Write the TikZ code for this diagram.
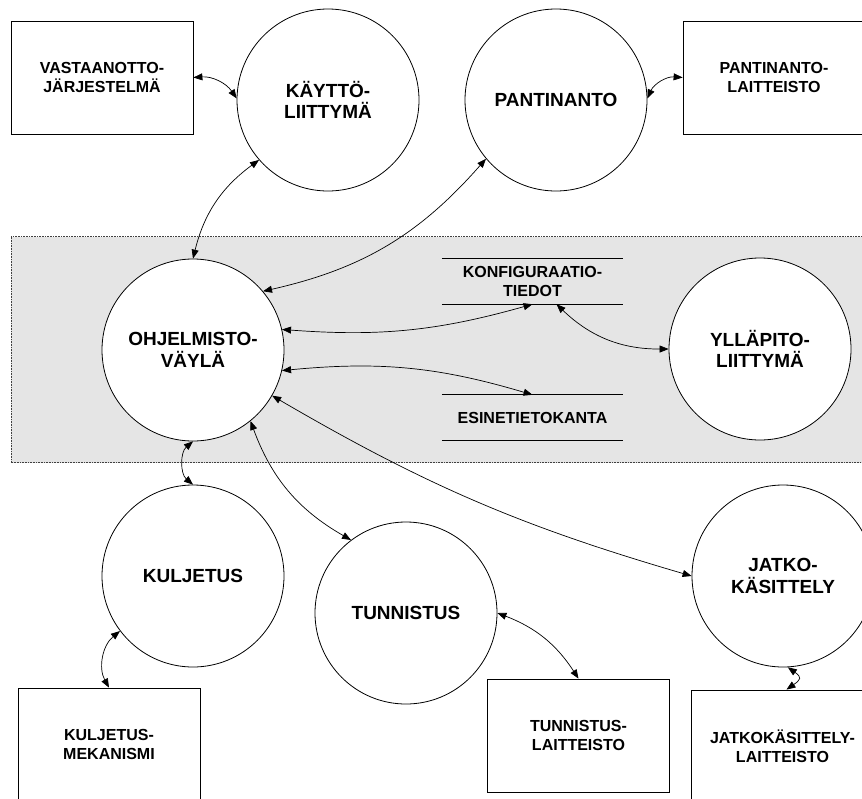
\documentclass[tikz,border=0pt]{standalone}
\usepackage{fontspec}
\setmainfont{Liberation Sans}
\usetikzlibrary{arrows.meta}
\begin{document}
\begin{tikzpicture}[x=1pt,y=1pt,
  proc/.style={circle,draw,fill=white,minimum size=182pt,inner sep=0pt,align=center,
    font=\fontsize{19}{21.7}\selectfont\bfseries,line width=0.8pt},
  ext/.style={rectangle,draw,fill=white,minimum width=182pt,minimum height=113pt,inner sep=0pt,
    align=center,font=\fontsize{16}{18.7}\selectfont\bfseries,line width=0.8pt},
  store/.style={minimum width=181pt,minimum height=45pt,inner sep=0pt,align=center,
    font=\fontsize{16}{18.7}\selectfont\bfseries},
  flow/.style={{Triangle[length=9pt,width=7pt]}-{Triangle[length=9pt,width=7pt]},line width=0.7pt},
  zone/.style={fill=black!10,draw=black!75,line width=0.8pt,dash pattern=on 0.8pt off 0.8pt},
]
\useasboundingbox (0,0) rectangle (862,-798);
\clip (0,0) rectangle (862,-798);
\fill[white] (0,0) rectangle (862,-798);

% system boundary
\path[zone] (11,-236.5) rectangle (875,-462.7);

% processes
\node[proc] (kay) at (328,-100) {KÄYTTÖ-\\LIITTYMÄ};
\node[proc] (pant) at (556,-100) {PANTINANTO};
\node[proc] (ohj) at (193,-350) {OHJELMISTO-\\VÄYLÄ};
\node[proc] (yll) at (760,-349) {YLLÄPITO-\\LIITTYMÄ};
\node[proc] (kul) at (193,-576) {KULJETUS};
\node[proc] (tun) at (406,-613) {TUNNISTUS};
\node[proc] (jat) at (783,-576) {JATKO-\\KÄSITTELY};

% external entities
\node[ext] (vast) at (102,-77.5) {VASTAANOTTO-\\JÄRJESTELMÄ};
\node[ext] (pbox) at (774,-77.5) {PANTINANTO-\\LAITTEISTO};
\node[ext] (kbox) at (109,-744.5) {KULJETUS-\\MEKANISMI};
\node[ext] (tbox) at (578.5,-735.5) {TUNNISTUS-\\LAITTEISTO};
\node[ext] (jbox) at (782.5,-746.5) {JATKOKÄSITTELY-\\LAITTEISTO};

% data stores
\node[store] (ks) at (532.5,-281.5) {KONFIGURAATIO-\\TIEDOT};
\node[store] (es) at (532.5,-417.5) {ESINETIETOKANTA};
\foreach \s in {ks,es}{
  \draw[line width=0.8pt] (\s.north west) -- (\s.north east);
  \draw[line width=0.8pt] (\s.south west) -- (\s.south east);
}

% data flows
\draw[flow] (vast.east) to[bend left=30] (kay.179);
\draw[flow] (ohj.90) to[bend left=20] (kay.221);
\draw[flow] (ohj.40) to[bend right=18] (pant.220);
\draw[flow] (pant.1) to[bend left=35] (pbox.west);
\draw[flow] (ohj.13) to[bend right=10] (ks.south);
\draw[flow] (ohj.-13) to[bend left=11] (es.north);
\draw[flow] ([xshift=24pt]ks.south) to[bend right=22] (yll.180);
\draw[flow] (ohj.-30) to[bend right=7] (jat.180);
\draw[flow] (ohj.-51) to[bend right=20] (tun.127);
\draw[flow] (ohj.-90) to[bend right=50] (kul.90);
\draw[flow] (kul.217) to[bend right=40] (kbox.north);
\draw[flow] (tun.0) to[bend left=18] (tbox.north);
\draw[flow] (jat.-87) to[out=-35,in=35,looseness=2] ([xshift=4pt]jbox.north);
\end{tikzpicture}
\end{document}
